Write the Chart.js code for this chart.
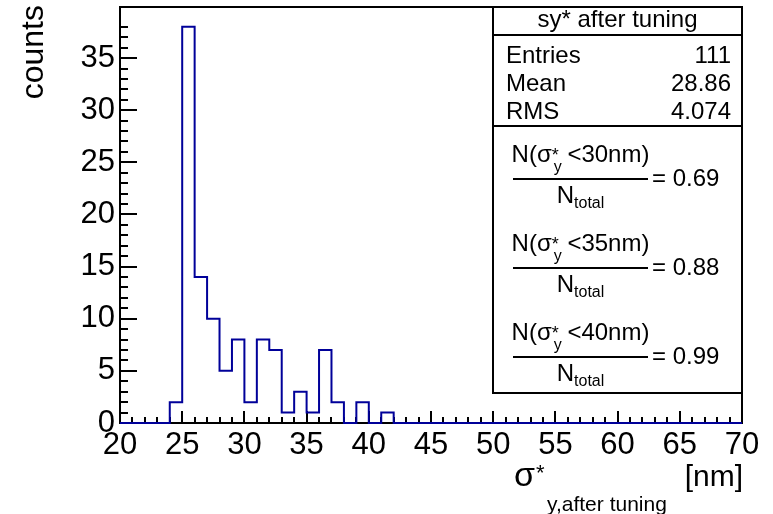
<!DOCTYPE html>
<html>
<head>
<meta charset="utf-8">
<script src="https://cdn.jsdelivr.net/npm/chart.js@4.4.1/dist/chart.umd.min.js"></script>
<style>
  html, body { margin: 0; padding: 0; background: #fff; }
  #wrap { width: 773px; height: 514px; }
</style>
</head>
<body>
<div id="wrap"><canvas id="c" width="773" height="514"></canvas></div>
<script>
// Histogram binning: 50 bins of 1 nm starting at 20 nm
const binStart = 20;
const binWidth = 1;
const counts = [
  0, 0, 0, 0, 2, 38, 14, 10, 5, 8,
  2, 8, 7, 1, 3, 1, 7, 2, 0, 2,
  0, 1, 0, 0, 0, 0, 0, 0, 0, 0,
  0, 0, 0, 0, 0, 0, 0, 0, 0, 0,
  0, 0, 0, 0, 0, 0, 0, 0, 0, 0
];

// Labelled axis ticks
const xTickLabels = [20, 25, 30, 35, 40, 45, 50, 55, 60, 65, 70];
const yTickLabels = [0, 5, 10, 15, 20, 25, 30, 35];
const yMax = 39.9;

// Statistics box contents
const statsTitle = 'sy* after tuning';
const statsNames = ['Entries', 'Mean', 'RMS'];
const statsValues = ['111', '28.86', '4.074'];
const cutLimits = ['30', '35', '40'];
const cutFractions = ['0.69', '0.88', '0.99'];

const FONT = '"Liberation Sans", Arial, Helvetica, sans-serif';
const LINE_COLOR = '#000099';

// Step outline points: each bin's left edge carries its count, closed at the last edge
const points = counts.map((c, i) => ({ x: binStart + i * binWidth, y: c }));
points.push({ x: binStart + counts.length * binWidth, y: counts[counts.length - 1] });

function font(px) { return px + 'px ' + FONT; }

// Frame and inward tick marks, ROOT style
const framePlugin = {
  id: 'frame',
  beforeDatasetsDraw(chart) {
    const { ctx, chartArea: a, scales: { x, y } } = chart;
    ctx.save();
    ctx.strokeStyle = '#000';
    ctx.lineWidth = 2;
    ctx.strokeRect(a.left, a.top, a.right - a.left, a.bottom - a.top);
    ctx.beginPath();
    x.ticks.forEach(t => {
      if (!Number.isInteger(t.value)) return;
      const px = Math.round(x.getPixelForValue(t.value));
      const len = xTickLabels.includes(t.value) ? 12 : 6;
      ctx.moveTo(px, a.bottom);
      ctx.lineTo(px, a.bottom - len);
    });
    y.ticks.forEach(t => {
      if (!Number.isInteger(t.value)) return;
      const py = Math.round(y.getPixelForValue(t.value));
      const len = yTickLabels.includes(t.value) ? 17 : 8;
      ctx.moveTo(a.left, py);
      ctx.lineTo(a.left + len, py);
    });
    ctx.stroke();
    ctx.restore();
  }
};

// Axis titles and the statistics box
const annotationPlugin = {
  id: 'annotations',
  afterDraw(chart) {
    const { ctx, chartArea: a } = chart;
    ctx.save();
    ctx.fillStyle = '#000';
    ctx.textBaseline = 'alphabetic';

    // y title, rotated, flush with the top of the frame
    ctx.save();
    ctx.translate(43, 5);
    ctx.rotate(-Math.PI / 2);
    ctx.font = font(32);
    ctx.textAlign = 'right';
    ctx.fillText('counts', 0, 0);
    ctx.restore();

    // x title: sigma*_{y,after tuning} [nm], right aligned at the frame edge
    ctx.textAlign = 'left';
    ctx.font = font(30);
    const unitW = ctx.measureText('[nm]').width;
    ctx.fillText('[nm]', a.right + 1 - unitW, 486);
    ctx.font = font(34);
    ctx.fillText('σ', 514, 486);
    const sigW = ctx.measureText('σ').width;
    ctx.font = font(22);
    ctx.fillText('*', 514 + sigW + 1, 480);
    ctx.font = font(21);
    ctx.fillText('y,after tuning', 547, 511);

    // statistics box
    const L = 493, T = a.top, R = a.right, B = 393;
    ctx.fillStyle = '#fff';
    ctx.fillRect(L, T, R - L, B - T);
    ctx.strokeStyle = '#000';
    ctx.lineWidth = 2;
    ctx.strokeRect(L, T, R - L, B - T);
    ctx.beginPath();
    ctx.moveTo(L, 35); ctx.lineTo(R, 35);
    ctx.moveTo(L, 126); ctx.lineTo(R, 126);
    ctx.stroke();

    ctx.fillStyle = '#000';
    ctx.font = font(24);
    ctx.textAlign = 'center';
    ctx.fillText(statsTitle, (L + R) / 2, 27);

    const rowY = [63, 91, 119];
    statsNames.forEach((n, i) => {
      ctx.textAlign = 'left';
      ctx.fillText(n, 506, rowY[i]);
      ctx.textAlign = 'right';
      ctx.fillText(statsValues[i], 731, rowY[i]);
    });

    // fraction rows: N(sigma*_y < cut) / N_total = value
    const fx0 = 513, fx1 = 648, fcx = (fx0 + fx1) / 2;
    cutLimits.forEach((cut, i) => {
      const ly = 179 + i * 89;
      ctx.textAlign = 'left';
      // numerator pieces
      ctx.font = font(24);
      const p1 = 'N(σ';
      const p3 = ' <' + cut + 'nm)';
      const w1 = ctx.measureText(p1).width;
      const w3 = ctx.measureText(p3).width;
      ctx.font = font(18);
      const wStar = ctx.measureText('*').width;
      ctx.font = font(16);
      const wY = ctx.measureText('y').width;
      const w2 = Math.max(wStar, wY + 1);
      const total = w1 + w2 + w3;
      let cx = fcx - total / 2;
      const nb = ly - 17;
      ctx.font = font(24);
      ctx.fillText(p1, cx, nb);
      cx += w1;
      ctx.font = font(18);
      ctx.fillText('*', cx, nb - 1);
      ctx.font = font(16);
      ctx.fillText('y', cx + 2, ly - 7);
      cx += w2;
      ctx.font = font(24);
      ctx.fillText(p3, cx, nb);

      // fraction bar
      ctx.beginPath();
      ctx.lineWidth = 2;
      ctx.moveTo(fx0, ly); ctx.lineTo(fx1, ly);
      ctx.stroke();

      // denominator
      ctx.font = font(24);
      const wN = ctx.measureText('N').width;
      ctx.font = font(16);
      const wT = ctx.measureText('total').width;
      const dx = fcx - (wN + wT) / 2;
      ctx.font = font(24);
      ctx.fillText('N', dx, ly + 24);
      ctx.font = font(16);
      ctx.fillText('total', dx + wN, ly + 29);

      // result
      ctx.font = font(24);
      ctx.textBaseline = 'middle';
      ctx.fillText('= ' + cutFractions[i], 652, ly);
      ctx.textBaseline = 'alphabetic';
    });

    ctx.restore();
  }
};

new Chart(document.getElementById('c'), {
  type: 'line',
  data: {
    datasets: [{
      data: points,
      stepped: 'before',
      borderColor: LINE_COLOR,
      borderWidth: 2,
      pointRadius: 0,
      fill: false,
      clip: 4
    }]
  },
  options: {
    responsive: false,
    devicePixelRatio: 1,
    animation: false,
    layout: { padding: { left: 0, top: 7, right: 31, bottom: 0 } },
    plugins: { legend: { display: false }, tooltip: { enabled: false } },
    scales: {
      x: {
        type: 'linear',
        min: binStart,
        max: binStart + counts.length * binWidth,
        grid: { display: false, drawTicks: false },
        border: { display: false },
        ticks: {
          stepSize: 1,
          autoSkip: false,
          maxRotation: 0,
          padding: 4,
          color: '#000',
          font: { family: FONT, size: 31 },
          callback: v => xTickLabels.includes(v) ? String(v) : ''
        },
        afterFit(s) { s.height = 91; s.paddingLeft = 0; s.paddingRight = 0; }
      },
      y: {
        min: 0,
        max: yMax,
        grid: { display: false, drawTicks: false },
        border: { display: false },
        ticks: {
          stepSize: 1,
          autoSkip: false,
          padding: 5,
          color: '#000',
          font: { family: FONT, size: 31 },
          callback: v => yTickLabels.includes(v) ? String(v) : ''
        },
        afterFit(s) { s.width = 120; s.paddingTop = 0; s.paddingBottom = 0; }
      }
    }
  },
  plugins: [framePlugin, annotationPlugin]
});
</script>
</body>
</html>
